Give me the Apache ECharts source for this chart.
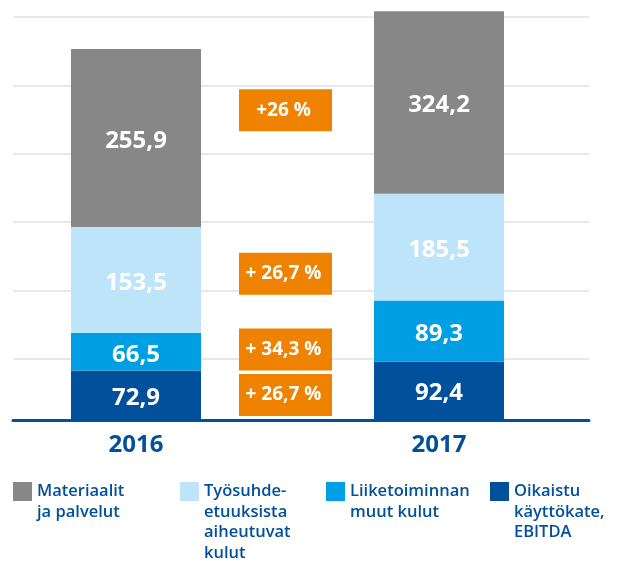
<!DOCTYPE html>
<html>
<head>
<meta charset="utf-8">
<script src="https://cdn.jsdelivr.net/npm/echarts@6/dist/echarts.min.js"></script>
<style>
  html, body { margin: 0; padding: 0; background: #fff; }
  #chart { width: 620px; height: 561px; }
</style>
</head>
<body>
<div id="chart"></div>
<script>
// x-slots: the two years with the change column between them
const years = ['2016', '', '2017'];

// bar segment heights as drawn in the source (the source is not drawn to scale)
const ebitdaH = [71, null, 84];
const muutH = [54.5, null, 89];
const tyoH = [155, null, 156];
const materH = [260, null, 266.5];

// values printed on the segments (M€)
const ebitdaLbl = ['72,9', '', '92,4'];
const muutLbl = ['66,5', '', '89,3'];
const tyoLbl = ['153,5', '', '185,5'];
const materLbl = ['255,9', '', '324,2'];

// change boxes: text and vertical place on the bar scale
const changeTxt = ['+26 %', '+ 26,7 %', '+ 34,3 %', '+ 26,7 %'];
const changeY = [451, 212, 101.5, 35];

const names = {
  mater: 'Materiaalit\nja palvelut',
  tyo: 'Työsuhde-\netuuksista\naiheutuvat\nkulut',
  muut: 'Liiketoiminnan\nmuut kulut',
  ebitda: 'Oikaistu\nkäyttökate,\nEBITDA'
};

const FONT = 'Open Sans';
const DARK = '#00509b';

function barSeries(name, heights, labels, color) {
  return {
    name: name,
    type: 'bar',
    stack: 'kulut',
    xAxisIndex: 1,
    yAxisIndex: 1,
    barWidth: 130,
    data: heights,
    itemStyle: { color: color },
    label: {
      show: true,
      position: 'inside',
      offset: [0, 3],
      color: '#fff',
      fontFamily: FONT,
      fontWeight: 'bold',
      fontSize: 24,
      formatter: (p) => labels[p.dataIndex]
    },
    emphasis: { disabled: true }
  };
}

// legend text is centred on the icon, so blank lines in front push the
// first real line level with the square
function legendFor(name, left, lines) {
  const lh = 20.5;
  return {
    data: [name],
    left: left,
    top: 491.5 - (2 * lines - 1) * lh / 2,
    padding: 0,
    icon: 'rect',
    itemWidth: 19,
    itemHeight: 19,
    itemGap: 0,
    selectedMode: false,
    formatter: (n) => '\n'.repeat(lines - 1) + n,
    textStyle: {
      color: DARK,
      fontFamily: FONT,
      fontWeight: 600,
      fontSize: 16.5,
      lineHeight: lh
    }
  };
}

let myChart = echarts.init(document.getElementById('chart'));

myChart.setOption({
  animation: false,
  backgroundColor: '#fff',
  grid: [
    // gridlines
    { left: 13, right: 31, top: 17, bottom: 133.6 },
    // bars
    { left: 60.25, right: 105.25, top: 11, bottom: 142 },
    // base line
    { left: 13, right: 31, top: 11, bottom: 140.5 }
  ],
  xAxis: [
    { gridIndex: 0, type: 'value', min: 0, max: 1, show: false },
    {
      gridIndex: 1,
      type: 'category',
      data: years,
      axisLine: { show: false },
      axisTick: { show: false },
      axisLabel: {
        margin: 14,
        color: DARK,
        fontFamily: FONT,
        fontWeight: 'bold',
        fontSize: 24
      }
    },
    {
      gridIndex: 2,
      type: 'value',
      min: 0,
      max: 1,
      axisLine: { show: true, lineStyle: { color: DARK, width: 3 } },
      axisTick: { show: false },
      axisLabel: { show: false },
      splitLine: { show: false }
    }
  ],
  yAxis: [
    {
      gridIndex: 0,
      type: 'value',
      min: 0,
      max: 6,
      interval: 1,
      axisLine: { show: false },
      axisTick: { show: false },
      axisLabel: { show: false },
      splitLine: { show: true, showMinLine: false, lineStyle: { color: '#e0e0e0', width: 1.5 } }
    },
    { gridIndex: 1, type: 'value', min: 0, max: 596, show: false, splitLine: { show: false } },
    { gridIndex: 2, type: 'value', show: false, splitLine: { show: false } }
  ],
  legend: [
    legendFor(names.mater, 13, 2),
    legendFor(names.tyo, 180, 4),
    legendFor(names.muut, 326, 2),
    legendFor(names.ebitda, 490, 3)
  ],
  series: [
    barSeries(names.ebitda, ebitdaH, ebitdaLbl, DARK),
    barSeries(names.muut, muutH, muutLbl, '#009fe3'),
    barSeries(names.tyo, tyoH, tyoLbl, '#bde4f8'),
    barSeries(names.mater, materH, materLbl, '#878787'),
    {
      type: 'scatter',
      xAxisIndex: 1,
      yAxisIndex: 1,
      symbol: 'rect',
      symbolSize: [93, 42],
      symbolOffset: [-2, 0],
      data: changeY.map((y) => [1, y]),
      itemStyle: { color: '#ef8200', opacity: 1 },
      label: {
        show: true,
        position: 'inside',
        offset: [-2, 0],
        color: '#fff',
        fontFamily: FONT,
        fontWeight: 'bold',
        fontSize: 19,
        formatter: (p) => changeTxt[p.dataIndex]
      },
      emphasis: { disabled: true },
      z: 3
    }
  ]
});
</script>
</body>
</html>
